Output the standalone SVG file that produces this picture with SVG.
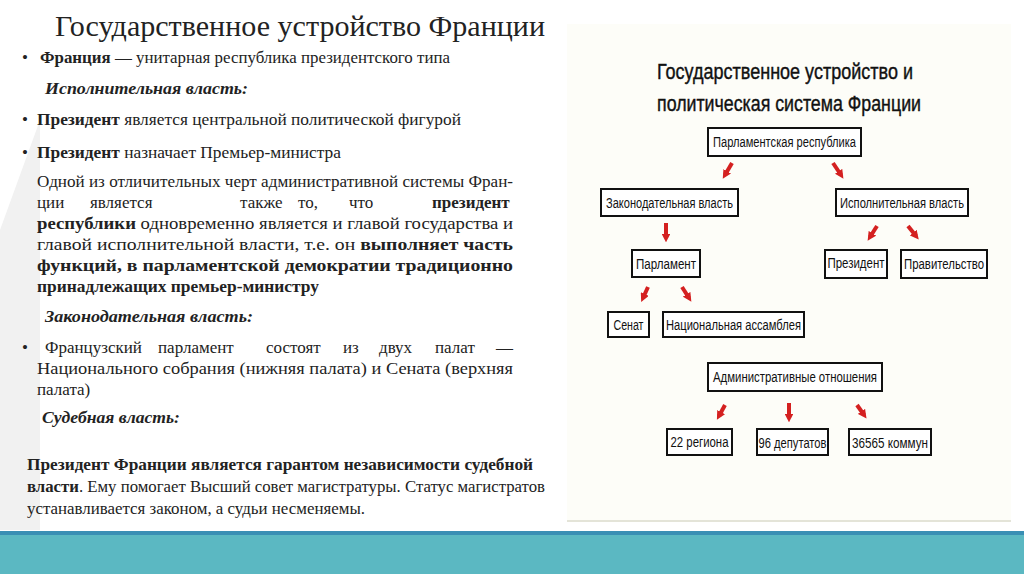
<svg xmlns="http://www.w3.org/2000/svg" width="1024" height="574" viewBox="0 0 1024 574">
<defs>
<style>
.t{font-family:"Liberation Serif",serif;font-size:17px;fill:#222}
.b{font-weight:bold}
.h{font-weight:bold;font-style:italic}
.n rect{fill:#fff;stroke:#111;stroke-width:2}
.n text{font-family:"Liberation Sans",Arial,sans-serif;font-size:14px;fill:#111;text-anchor:middle}
.c line{stroke:#d42020;stroke-width:4;marker-end:url(#ah)}
</style>
<marker id="ah" viewBox="0 0 10 10" refX="5" refY="5" markerWidth="2.2" markerHeight="2.2" orient="auto"><path d="M0,0L10,5L0,10z" fill="#d42020"/></marker>
</defs>
<rect width="1024" height="574" fill="#fff"/>
<polygon points="0,230 40,120 40,530 0,530" fill="#f1f1f1"/>
<rect x="567" y="24" width="444" height="498" fill="#fdfdf8"/>
<line x1="567" y1="521" x2="1011" y2="521" stroke="#e4e4d8" stroke-width="2"/>
<rect x="0" y="531" width="1024" height="4" fill="#3a8fb4"/>
<rect x="0" y="535" width="1024" height="39" fill="#5bb8c2"/>

<text x="55" y="36" font-family="Liberation Serif,serif" font-size="29" fill="#222" textLength="490" lengthAdjust="spacingAndGlyphs">Государственное устройство Франции</text>

<text class="t" x="22" y="63">•</text>
<text class="t" x="40" y="63" textLength="410" lengthAdjust="spacingAndGlyphs"><tspan class="b">Франция</tspan> — унитарная республика президентского типа</text>
<text class="t h" x="45" y="94" textLength="203" lengthAdjust="spacingAndGlyphs">Исполнительная власть:</text>
<text class="t" x="22" y="125">•</text>
<text class="t" x="37" y="125" textLength="424" lengthAdjust="spacingAndGlyphs"><tspan class="b">Президент</tspan> является центральной политической фигурой</text>
<text class="t" x="22" y="158">•</text>
<text class="t" x="37" y="158" textLength="304" lengthAdjust="spacingAndGlyphs"><tspan class="b">Президент</tspan> назначает Премьер-министра</text>
<text class="t" x="37" y="187" textLength="476" lengthAdjust="spacingAndGlyphs">Одной из отличительных черт административной системы Фран-</text>
<text class="t" y="208"><tspan x="37">ции</tspan><tspan x="90">является</tspan><tspan x="240">также</tspan><tspan x="298">то,</tspan><tspan x="349">что</tspan><tspan x="432" class="b">президент</tspan></text>
<text class="t" x="37" y="229" textLength="476" lengthAdjust="spacingAndGlyphs"><tspan class="b">республики</tspan> одновременно является и главой государства и</text>
<text class="t" x="37" y="250" textLength="476" lengthAdjust="spacingAndGlyphs">главой исполнительной власти, т.е. он <tspan class="b">выполняет часть</tspan></text>
<text class="t b" x="37" y="271" textLength="476" lengthAdjust="spacingAndGlyphs">функций, в парламентской демократии традиционно</text>
<text class="t b" x="37" y="292" textLength="282" lengthAdjust="spacingAndGlyphs">принадлежащих премьер-министру</text>
<text class="t h" x="45" y="322" textLength="208" lengthAdjust="spacingAndGlyphs">Законодательная власть:</text>
<text class="t" x="22" y="353">•</text>
<text class="t" y="353"><tspan x="45">Французский</tspan><tspan x="158">парламент</tspan><tspan x="266">состоят</tspan><tspan x="343">из</tspan><tspan x="379">двух</tspan><tspan x="435">палат</tspan><tspan x="496">—</tspan></text>
<text class="t" x="37" y="374" textLength="476" lengthAdjust="spacingAndGlyphs">Национального собрания (нижняя палата) и Сената (верхняя</text>
<text class="t" x="37" y="395">палата)</text>
<text class="t h" x="42" y="423" textLength="138" lengthAdjust="spacingAndGlyphs">Судебная власть:</text>
<text class="t b" x="27" y="470" textLength="506" lengthAdjust="spacingAndGlyphs">Президент Франции является гарантом независимости судебной</text>
<text class="t" x="27" y="492" textLength="518" lengthAdjust="spacingAndGlyphs"><tspan class="b">власти</tspan>. Ему помогает Высший совет магистратуры. Статус магистратов</text>
<text class="t" x="27" y="514" textLength="338" lengthAdjust="spacingAndGlyphs">устанавливается законом, а судьи несменяемы.</text>

<text x="785" y="79" font-family="Liberation Sans,Arial,sans-serif" font-size="22" fill="#111" text-anchor="middle" textLength="256" lengthAdjust="spacingAndGlyphs" stroke="#111" stroke-width="0.4">Государственное устройство и</text>
<text x="789" y="111" font-family="Liberation Sans,Arial,sans-serif" font-size="22" fill="#111" text-anchor="middle" textLength="264" lengthAdjust="spacingAndGlyphs" stroke="#111" stroke-width="0.4">политическая система Франции</text>

<g id="n1" class="n"><rect x="708" y="128" width="153" height="28"/><text x="784.5" y="147" textLength="143" lengthAdjust="spacingAndGlyphs">Парламентская республика</text></g>
<g id="n2" class="n"><rect x="601" y="189" width="137" height="27"/><text x="669.5" y="208" textLength="127" lengthAdjust="spacingAndGlyphs">Законодательная власть</text></g>
<g id="n3" class="n"><rect x="836" y="189" width="132" height="27"/><text x="902" y="208" textLength="124" lengthAdjust="spacingAndGlyphs">Исполнительная власть</text></g>
<g id="n4" class="n"><rect x="632" y="250" width="68" height="27"/><text x="666" y="269" textLength="60" lengthAdjust="spacingAndGlyphs">Парламент</text></g>
<g id="n5" class="n"><rect x="825" y="250" width="62" height="28"/><text x="856" y="268" textLength="57" lengthAdjust="spacingAndGlyphs">Президент</text></g>
<g id="n6" class="n"><rect x="901" y="250" width="86" height="28"/><text x="944" y="269" textLength="80" lengthAdjust="spacingAndGlyphs">Правительство</text></g>
<g id="n7" class="n"><rect x="608" y="312" width="41" height="25"/><text x="628.5" y="330" textLength="30" lengthAdjust="spacingAndGlyphs">Сенат</text></g>
<g id="n8" class="n"><rect x="663" y="312" width="141" height="25"/><text x="733.5" y="330" textLength="135" lengthAdjust="spacingAndGlyphs">Национальная ассамблея</text></g>
<g id="n9" class="n"><rect x="708" y="363" width="174" height="28"/><text x="795" y="382" textLength="164" lengthAdjust="spacingAndGlyphs">Административные отношения</text></g>
<g id="n10" class="n"><rect x="667" y="429" width="65" height="26"/><text x="699.5" y="447" textLength="58" lengthAdjust="spacingAndGlyphs">22 региона</text></g>
<g id="n11" class="n"><rect x="757" y="429" width="71" height="26"/><text x="792.5" y="448" textLength="68" lengthAdjust="spacingAndGlyphs">96 депутатов</text></g>
<g id="n12" class="n"><rect x="849" y="429" width="82" height="26"/><text x="890" y="448" textLength="76" lengthAdjust="spacingAndGlyphs">36565 коммун</text></g>

<g id="connectors" class="c">
<line x1="732" y1="163" x2="725" y2="175"/>
<line x1="833" y1="163" x2="841" y2="175"/>
<line x1="666" y1="223" x2="666" y2="238"/>
<line x1="877" y1="226" x2="870" y2="237"/>
<line x1="908" y1="226" x2="916" y2="236"/>
<line x1="648" y1="287" x2="643" y2="298"/>
<line x1="682" y1="287" x2="689" y2="298"/>
<line x1="725" y1="405" x2="719" y2="416"/>
<line x1="789" y1="403" x2="789" y2="418"/>
<line x1="857" y1="405" x2="864" y2="415"/>
</g>
</svg>
